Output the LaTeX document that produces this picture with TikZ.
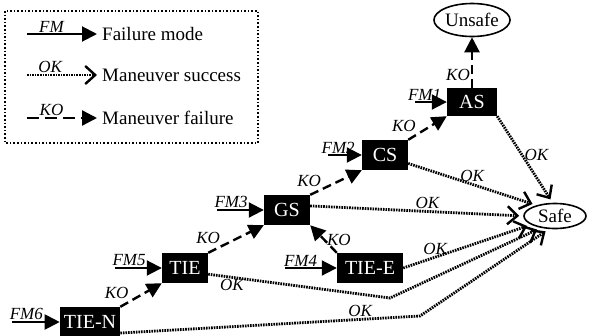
\documentclass[tikz,border=0pt]{standalone}
\usepackage{fontspec}
\setmainfont{Liberation Serif}
\usetikzlibrary{arrows.meta,shapes,positioning}

\begin{document}
\begin{tikzpicture}[x=1pt,y=-1pt,
  mode/.style={fill=black,text=white,inner xsep=4pt,inner ysep=0pt,minimum width=46pt,minimum height=30pt,font=\fontsize{20}{22}\selectfont},
  outcome/.style={draw,ellipse,line width=1.6pt,inner sep=0pt,minimum width=62pt,font=\fontsize{19}{21}\selectfont},
  fm/.style={line width=2pt,-{Triangle[length=15pt,width=15pt]}},
  ko/.style={line width=2.4pt,dash pattern=on 9pt off 5pt,-{Triangle[length=15pt,width=15pt]}},
  ok/.style={line width=2.8pt,dash pattern=on 1.6pt off 1pt,-{Straight Barb[length=10pt,width=18pt,line width=2.4pt]},shorten >=4pt},
  lbl/.style={font=\itshape\fontsize{17}{19}\selectfont,inner sep=1pt},
  legtext/.style={font=\fontsize{19}{21}\selectfont,anchor=west,inner sep=0pt}]

\useasboundingbox (0,0) rectangle (591,335);

% legend
\draw[line width=1.6pt,dotted] (5,11) rectangle (258,143);
\coordinate (l1a) at (27,34);  \coordinate (l1b) at (97,34);
\coordinate (l2a) at (27,75);  \coordinate (l2b) at (97,75);
\coordinate (l3a) at (27,118); \coordinate (l3b) at (97,118);
\draw[fm] (l1a) -- node[lbl,above,pos=0.35] {FM} (l1b);
\draw[ok,shorten >=0pt] (l2a) -- node[lbl,above,pos=0.33] {OK} (l2b);
\draw[ko,dash pattern=on 12pt off 6pt] (l3a) -- node[lbl,above,pos=0.35] {KO} (l3b);
\node[legtext] (t1) at (102,34) {Failure mode};
\node[legtext] (t2) at (102,75) {Maneuver success};
\node[legtext] (t3) at (102,118) {Maneuver failure};

% maneuvers
\node[mode] (tien) at (90,322) {TIE-N};
\node[mode] (tie) at (185,268) {TIE};
\node[mode] (gs) at (287,210) {GS};
\node[mode] (cs) at (385,155) {CS};
\node[mode,minimum width=50pt,minimum height=28pt] (as) at (472,102) {AS};
\node[mode,minimum width=66pt] (tiee) at (370,268) {TIE-E};
\node[outcome,minimum height=33pt] (unsafe) at (472,20) {Unsafe};
\node[outcome,minimum height=25pt] (safe) at (555,216) {Safe};

% failure modes
\coordinate (fm1) at (415,102);
\coordinate (fm2) at (328,155);
\coordinate (fm3) at (217,210);
\coordinate (fm4) at (285,268);
\coordinate (fm5) at (115,268);
\coordinate (fm6) at (12,322);
\draw[fm] (fm1) -- node[lbl,above,pos=0.3] {FM1} (as);
\draw[fm] (fm2) -- node[lbl,above,pos=0.3] {FM2} (cs);
\draw[fm] (fm3) -- node[lbl,above,pos=0.3] {FM3} (gs);
\draw[fm] (fm4) -- node[lbl,above,pos=0.3] {FM4} (tiee);
\draw[fm] (fm5) -- node[lbl,above,pos=0.3] {FM5} (tie);
\draw[fm] (fm6) -- node[lbl,above,pos=0.3] {FM6} (tien);

% failures
\draw[ko] (tien.north east) -- node[lbl,above left,pos=0.25] {KO} (tie.south west);
\draw[ko] (tie.north east) -- node[lbl,above left,pos=0.25] {KO} (gs.south west);
\draw[ko] (gs.north east) -- node[lbl,above left,pos=0.25] {KO} (cs.south west);
\draw[ko] (cs.north east) -- node[lbl,above left,pos=0.25] {KO} (as.south west);
\draw[ko] (as.north) -- node[lbl,left,pos=0.25] {KO} (unsafe.south);
\draw[ko] (tiee.north west) -- node[lbl,right,pos=0.45] {KO} (gs.south east);

% successes
\coordinate (bend1) at (390,298);
\coordinate (bend2) at (420,316);
\draw[ok] (as.south east) -- node[lbl,right,pos=0.45] {OK} (safe.100);
\draw[ok] (cs.-20) -- node[lbl,above,pos=0.5] {OK} (safe.150);
\draw[ok] (gs.10) -- node[lbl,above,pos=0.55] {OK} (safe.west);
\draw[ok] (tiee.east) -- node[lbl,above,pos=0.25] {OK} (safe.200);
\draw[ok] (tie.-15) -- node[lbl,below,pos=0.13] {OK} (bend1) -- (safe.220);
\draw[ok] (tien.-20) -- node[lbl,above,pos=0.8] {OK} (bend2) -- (safe.245);

\end{tikzpicture}
\end{document}
